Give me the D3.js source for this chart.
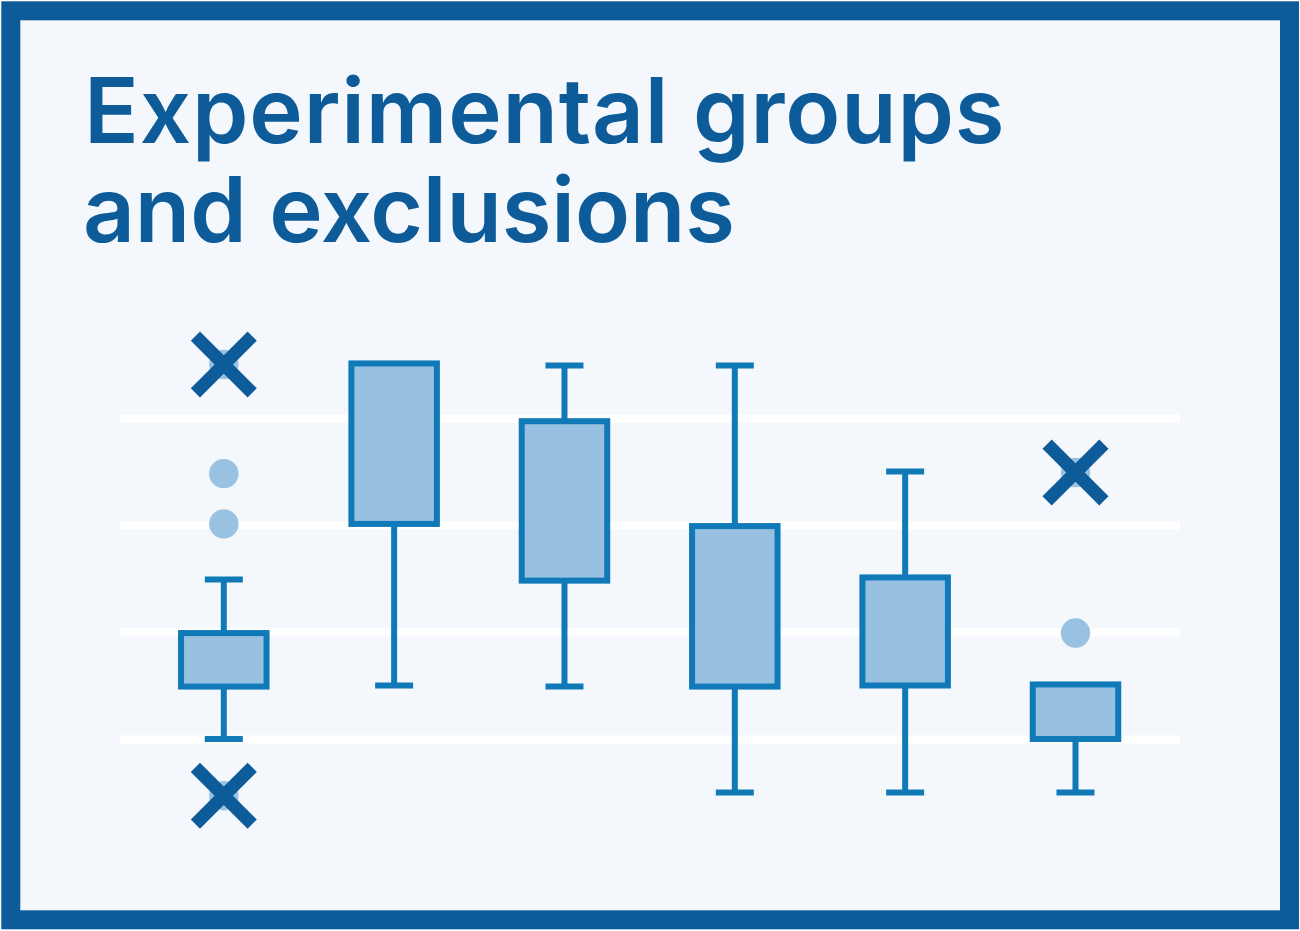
<!DOCTYPE html>
<html>
<head>
<meta charset="utf-8">
<script src="https://d3js.org/d3.v7.min.js"></script>
<style>
  html, body { margin: 0; padding: 0; background: #ffffff; }
  svg { display: block; }
</style>
</head>
<body>
<div id="my_dataviz"></div>
<script>
// values
var titleLines = ["Experimental groups", "and exclusions"];
var groups = ["A", "B", "C", "D", "E", "F"];
var gridValues = [0, 1, 2, 3];

var q1Values = [0.49, 2.01, 1.48, 0.49, 0.5, 0];
var q3Values = [0.99, 3.51, 2.97, 1.99, 1.51, 0.51];
var whiskerLow = [0, 0.5, 0.49, -0.5, -0.5, -0.5];
var whiskerHigh = [1.49, null, 3.49, 3.49, 2.5, null];

// single points: group and value
var outlierGroups = ["A", "A", "A", "A", "F", "F"];
var outlierValues = [3.5, 2.48, 2.01, -0.53, 2.49, 0.99];

// the points that get crossed out
var excludedGroups = ["A", "A", "F"];
var excludedValues = [3.5, -0.53, 2.49];

var boxes = groups.map(function(g, i) {
  return { group: g, q1: q1Values[i], q3: q3Values[i], low: whiskerLow[i], high: whiskerHigh[i] };
});
var outliers = outlierGroups.map(function(g, i) { return { group: g, value: outlierValues[i] }; });
var excluded = excludedGroups.map(function(g, i) { return { group: g, value: excludedValues[i] }; });

var width = 1300, height = 931;
var boxWidth = 85.5, capWidth = 38, crossSize = 28.4;

var svg = d3.select("#my_dataviz")
  .append("svg")
    .attr("width", width)
    .attr("height", height);

// frame
svg.append("rect")
  .attr("x", 10.8)
  .attr("y", 10.8)
  .attr("width", 1278.7)
  .attr("height", 909)
  .attr("fill", "#f4f8fd")
  .attr("stroke", "#0d5c99")
  .attr("stroke-width", 19);

// title, each line has its own tracking to fit the original width
svg.append("g").selectAll("text")
  .data(titleLines)
  .enter()
  .append("text")
    .attr("x", function(d, i) { return i == 0 ? 84 : 83; })
    .attr("y", function(d, i) { return 142.5 + i * 99; })
    .attr("fill", "#0d5c99")
    .style("font-family", "Inter")
    .style("font-size", "90.5px")
    .style("font-weight", 600)
    .style("letter-spacing", function(d, i) { return i == 0 ? "0.85px" : "-0.1px"; })
    .text(function(d) { return d; });

// scales
var x = d3.scalePoint()
  .domain(groups)
  .range([223.8, 1075.5]);

var y = d3.scaleLinear()
  .domain([0, 3])
  .range([739, 418]);

// grid lines come from the axis ticks
var grid = svg.append("g")
  .attr("transform", "translate(120,0)")
  .call(d3.axisRight(y).tickValues(gridValues).tickSize(1060).tickFormat(""));
grid.select(".domain").remove();
grid.selectAll("line")
  .attr("stroke", "#ffffff")
  .attr("stroke-width", 8);

var boxStroke = "#1079b7";
var boxFill = "#97c0e1";

// whiskers
var withHigh = boxes.filter(function(d) { return d.high !== null; });

svg.selectAll(".whiskerLine")
  .data(boxes)
  .enter()
  .append("line")
    .attr("class", "whiskerLine")
    .attr("x1", function(d) { return x(d.group); })
    .attr("x2", function(d) { return x(d.group); })
    .attr("y1", function(d) { return y(d.low); })
    .attr("y2", function(d) { return y(d.high === null ? d.q3 : d.high); })
    .attr("stroke", boxStroke)
    .attr("stroke-width", 6);

svg.selectAll(".capLow")
  .data(boxes.filter(function(d) { return d.low < d.q1; }))
  .enter()
  .append("line")
    .attr("class", "capLow")
    .attr("x1", function(d) { return x(d.group) - capWidth / 2; })
    .attr("x2", function(d) { return x(d.group) + capWidth / 2; })
    .attr("y1", function(d) { return y(d.low); })
    .attr("y2", function(d) { return y(d.low); })
    .attr("stroke", boxStroke)
    .attr("stroke-width", 6);

svg.selectAll(".capHigh")
  .data(withHigh)
  .enter()
  .append("line")
    .attr("class", "capHigh")
    .attr("x1", function(d) { return x(d.group) - capWidth / 2; })
    .attr("x2", function(d) { return x(d.group) + capWidth / 2; })
    .attr("y1", function(d) { return y(d.high); })
    .attr("y2", function(d) { return y(d.high); })
    .attr("stroke", boxStroke)
    .attr("stroke-width", 6);

// boxes
svg.selectAll(".box")
  .data(boxes)
  .enter()
  .append("rect")
    .attr("class", "box")
    .attr("x", function(d) { return x(d.group) - boxWidth / 2; })
    .attr("y", function(d) { return y(d.q3); })
    .attr("width", boxWidth)
    .attr("height", function(d) { return y(d.q1) - y(d.q3); })
    .attr("fill", boxFill)
    .attr("stroke", boxStroke)
    .attr("stroke-width", 6);

// outliers
svg.selectAll(".outlier")
  .data(outliers)
  .enter()
  .append("circle")
    .attr("class", "outlier")
    .attr("cx", function(d) { return x(d.group); })
    .attr("cy", function(d) { return y(d.value); })
    .attr("r", 14.7)
    .attr("fill", "#99c2e2");

// crosses
svg.selectAll(".cross")
  .data(excluded)
  .enter()
  .append("path")
    .attr("class", "cross")
    .attr("d", function(d) {
      var cx = x(d.group), cy = y(d.value), s = crossSize;
      return "M" + (cx - s) + "," + (cy - s) + "L" + (cx + s) + "," + (cy + s) +
             "M" + (cx - s) + "," + (cy + s) + "L" + (cx + s) + "," + (cy - s);
    })
    .attr("fill", "none")
    .attr("stroke", "#0d5c99")
    .attr("stroke-width", 13);
</script>
</body>
</html>
